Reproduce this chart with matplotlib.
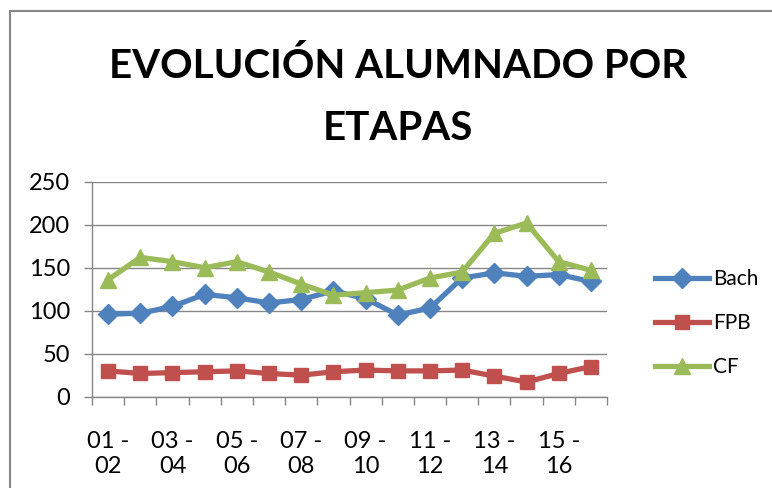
import matplotlib
matplotlib.use("Agg")
import matplotlib.pyplot as plt
from matplotlib.patches import Rectangle
import numpy as np

# Datos
cursos = ["01 - 02", "02 - 03", "03 - 04", "04 - 05", "05 - 06", "06 - 07",
          "07 - 08", "08 - 09", "09 - 10", "10 - 11", "11 - 12", "12 - 13",
          "13 - 14", "14 - 15", "15 - 16", "16 - 17"]
bach = [96, 97, 105, 119, 115, 109, 113, 123, 114, 95, 103, 138, 144, 140, 142, 134]
fpb = [30, 27, 28, 29, 30, 27, 25, 29, 31, 30, 30, 31, 24, 17, 27, 35]
cf = [136, 162, 157, 150, 157, 145, 131, 118, 121, 124, 138, 145, 190, 202, 157, 147]
y_ticks = [0, 50, 100, 150, 200, 250]

plt.rcParams["font.family"] = ["Lato", "DejaVu Sans"]

fig = plt.figure(figsize=(7.72, 4.88), dpi=100)
ax = fig.add_axes([92 / 772, 1 - 396.7 / 488, (607 - 92) / 772, (396.7 - 181.7) / 488])

x = np.arange(len(cursos))
ax.plot(x, bach, color="#4F81BD", lw=3.8, marker="D", ms=10, label="Bach", zorder=3)
ax.plot(x, fpb, color="#C0504D", lw=3.8, marker="s", ms=10, label="FPB", zorder=3)
ax.plot(x, cf, color="#9BBB59", lw=3.8, marker="^", ms=12, label="CF", zorder=4)

ax.set_xlim(-0.5, len(cursos) - 0.5)
ax.set_ylim(0, 250)
ax.set_yticks(y_ticks)
ax.tick_params(axis="y", length=6, width=1, color="#868686", labelsize=17, pad=10)
ax.yaxis.grid(True, color="#868686", lw=1)
ax.set_axisbelow(True)

# marcas entre categorias, etiquetas cada dos cursos
ax.set_xticks(np.arange(len(cursos) + 1) - 0.5)
ax.set_xticklabels([])
ax.tick_params(axis="x", which="major", length=6, width=1, color="#868686")
ax.set_xticks(x[::2], minor=True)
ax.set_xticklabels([c.replace(" - ", " -\n") for c in cursos[::2]], minor=True)
ax.tick_params(axis="x", which="minor", length=0, labelsize=17, pad=25)

for s in ["top", "right"]:
    ax.spines[s].set_visible(False)
for s in ["left", "bottom"]:
    ax.spines[s].set_color("#868686")
    ax.spines[s].set_linewidth(1)

fig.text(0.515, 1 - 97 / 488, "EVOLUCIÓN ALUMNADO POR\nETAPAS", ha="center", va="center",
         fontsize=29, fontweight="bold", linespacing=1.8)

leg = ax.legend(loc="center left", bbox_to_anchor=(1.057, 0.343), frameon=False,
                fontsize=15, handlelength=2.6, handletextpad=0.2, labelspacing=1.15)

fig.patches.append(Rectangle((10 / 772, -0.1), 1.2, 1.1 - 11 / 488,
                             transform=fig.transFigure, fill=False,
                             edgecolor="#868686", lw=1.5))

fig.savefig("out.png", dpi=100)
